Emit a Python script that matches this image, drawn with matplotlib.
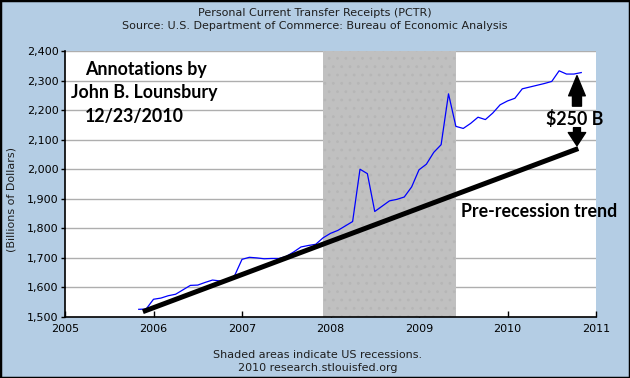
import matplotlib
matplotlib.use("Agg")
import matplotlib.pyplot as plt
from matplotlib.patches import Rectangle, FancyArrowPatch
from matplotlib.ticker import FuncFormatter
import pandas as pd

# ---- data ----
start_month = "2005-11-01"
pctr = [
    1526, 1527,                                                              # 2005 Nov-Dec
    1560, 1564, 1572, 1577, 1592, 1607, 1608, 1617, 1625, 1622, 1622, 1640,  # 2006
    1695, 1702, 1700, 1697, 1698, 1698, 1705, 1720, 1737, 1742, 1746, 1768,  # 2007
    1783, 1793, 1808, 1823, 2000, 1985, 1857, 1875, 1893, 1898, 1906, 1940,  # 2008
    1998, 2017, 2057, 2083, 2255, 2145, 2138, 2155, 2176, 2168, 2190, 2218,  # 2009
    2231, 2240, 2272, 2278, 2284, 2290, 2297, 2333, 2322, 2322, 2327,        # 2010 Jan-Nov
]
trend_x = [2005.88, 2010.80]
trend_y = [1518, 2070]
recession = (2007.917, 2009.417)
x_ticks = [2005, 2006, 2007, 2008, 2009, 2010, 2011]
y_ticks = [1500, 1600, 1700, 1800, 1900, 2000, 2100, 2200, 2300, 2400]

dates = pd.date_range(start_month, periods=len(pctr), freq="MS")
xdec = [d.year + (d.month - 1) / 12 for d in dates]

BG = "#B4CDE4"
fig = plt.figure(figsize=(6.3, 3.78), dpi=100, facecolor=BG)
ax = fig.add_axes([65 / 630, 1 - 317 / 378, (596 - 65) / 630, (317 - 51) / 378])
ax.set_facecolor("white")
ax.set_xlim(2005, 2011)
ax.set_ylim(1500, 2400)
ax.set_axisbelow(True)

for s in ["top", "right"]:
    ax.spines[s].set_visible(False)
for s in ["left", "bottom"]:
    ax.spines[s].set_color("black")
    ax.spines[s].set_linewidth(1.2)

ax.grid(axis="y", color="#AEAEAE", linewidth=1.0)
ax.set_xticks(x_ticks)
ax.set_yticks(y_ticks)
ax.yaxis.set_major_formatter(FuncFormatter(lambda v, p: f"{int(v):,}"))
ax.tick_params(axis="x", direction="in", length=4, width=1, pad=5, labelsize=8)
ax.tick_params(axis="y", direction="out", length=3, width=1, pad=1.5, labelsize=8)

plt.rcParams["hatch.linewidth"] = 0.8
ax.axvspan(recession[0], recession[1], facecolor="#C0C0C0", edgecolor="#B6B6B6",
           hatch="..", linewidth=0, zorder=1)

# white box behind the trend label
ax.add_patch(Rectangle((2009.42, 1778), 2011 - 2009.42, 1893 - 1778,
                       facecolor="white", edgecolor="none", zorder=1.5))

ax.plot(xdec, pctr, color="#0000FF", linewidth=0.9, zorder=3)
ax.plot(trend_x, trend_y, color="black", linewidth=3.6, solid_capstyle="butt", zorder=4)

# arrows
up = FancyArrowPatch((2010.785, 2204), (2010.785, 2326),
                     arrowstyle="simple,head_length=1.45,head_width=1.2,tail_width=0.65",
                     mutation_scale=10, color="black", zorder=5, clip_on=False)
ax.add_patch(up)
down = FancyArrowPatch((2010.785, 2150), (2010.785, 2070),
                       arrowstyle="simple,head_length=0.95,head_width=1.25,tail_width=0.5",
                       mutation_scale=10, color="black", zorder=5, clip_on=False)
ax.add_patch(down)

afont = dict(family=["Lato", "DejaVu Sans"], fontweight="bold", color="black")
fs = 12.8
ax.text(2005.917, 2337, "Annotations by", ha="center", va="center", fontsize=fs, **afont)
ax.text(2005.892, 2258, "John B. Lounsbury", ha="center", va="center", fontsize=fs, **afont)
ax.text(2005.78, 2179, "12/23/2010", ha="center", va="center", fontsize=fs, **afont)
ax.text(2010.76, 2169, "$250 B", ha="center", va="center", fontsize=fs, zorder=6, **afont)
ax.text(2009.47, 1856, "Pre-recession trend", ha="left", va="center", fontsize=fs,
        clip_on=False, zorder=6, **afont)

tc = "#1E1E1E"
fig.text(315 / 630, 1 - 13 / 378, "Personal Current Transfer Receipts (PCTR)",
         ha="center", va="center", fontsize=8, color=tc)
fig.text(315 / 630, 1 - 26 / 378, "Source: U.S. Department of Commerce: Bureau of Economic Analysis",
         ha="center", va="center", fontsize=8, color=tc)
fig.text(12 / 630, 1 - 200 / 378, "(Billions of Dollars)", rotation=90,
         ha="center", va="center", fontsize=8, color=tc)
fig.text(318 / 630, 1 - 355 / 378, "Shaded areas indicate US recessions.",
         ha="center", va="center", fontsize=8, color=tc)
fig.text(318 / 630, 1 - 368 / 378, "2010 research.stlouisfed.org",
         ha="center", va="center", fontsize=8, color=tc)

fig.add_artist(Rectangle((0, 0), 1, 1, transform=fig.transFigure, fill=False,
                         edgecolor="black", linewidth=2.5, clip_on=False))

fig.savefig("out.png", dpi=100, facecolor=BG)
